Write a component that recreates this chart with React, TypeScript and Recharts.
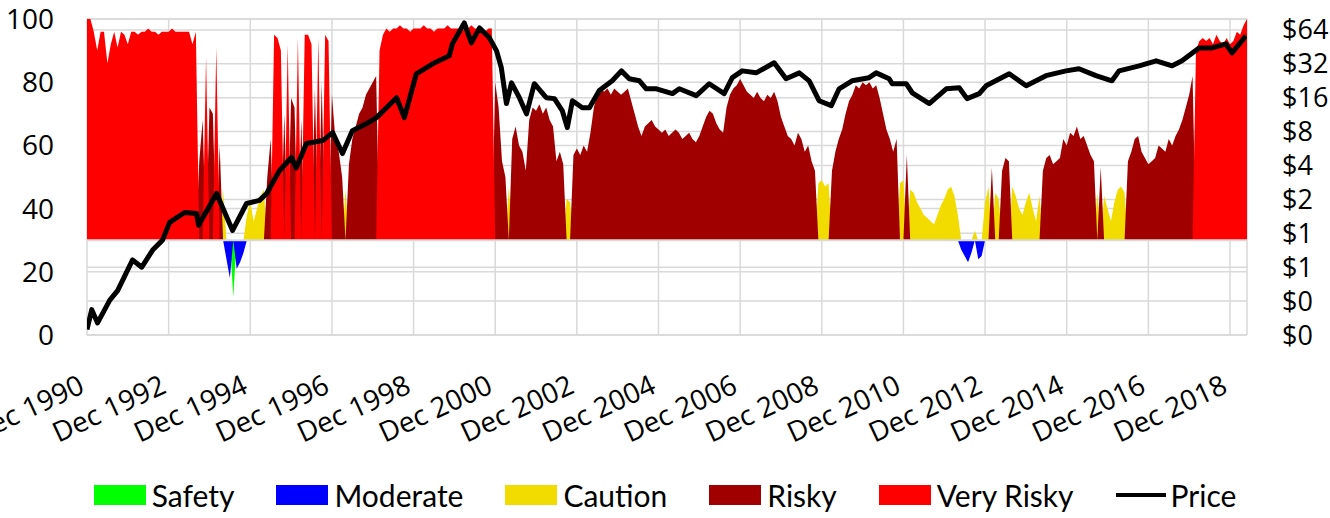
import React from 'react';
import { ComposedChart, Area, Line, XAxis, YAxis, CartesianGrid, Legend, ReferenceLine } from 'recharts';

const FONT = '"Open Sans", "Noto Sans", sans-serif';
const LEGEND_FONT = 'Lato, "Open Sans", sans-serif';

// Monthly risk index, starting Dec 1990 (index 0) through May 2019 (index 341)
const riskIndex: number[] = [
  // Dec 1990 - Aug 1993
  100, 100, 96, 90, 96, 96, 86, 92, 96, 91, 96, 95, 92, 96,
  96, 95, 96, 96, 97, 96, 96, 95, 96, 96, 96, 97, 96, 96, 96, 96, 96,
  92, 96,
  // Sep 1993 - Feb 1998
  55, 68, 88, 72, 70, 91, 60, 46, 24, 18, 12, 21, 23, 26, 38, 42, 36, 40, 44, 46,
  50, 62, 95, 94, 90, 70, 92, 75, 72, 94, 68, 95, 95, 92, 78, 94, 80, 95, 93, 76,
  62, 58, 50, 46, 54, 62, 66, 70, 72, 76, 78, 80, 82, 90,
  // Mar 1998 - Nov 2000
  95, 97, 96, 97, 97, 98, 97, 97, 96, 97, 97, 97, 98, 97, 97, 96, 97,
  97, 97, 98, 97, 97, 97, 96, 97, 97, 98, 97, 97, 97, 96, 97, 97,
  // Dec 2000 - May 2003
  80, 72, 55, 50, 47, 62, 66, 60, 58, 52, 68, 72, 71, 73, 70, 72, 68, 66, 55, 58,
  54, 43, 42, 57, 59, 57, 60, 58, 64, 72,
  // Jun 2003 - Nov 2005
  76, 78, 77, 78, 76, 78, 77, 76, 77, 78, 74, 70, 66, 63, 66, 67, 68, 66, 65, 64,
  65, 63, 64, 65, 64, 62, 63, 64, 62, 61,
  // Dec 2005 - May 2008
  63, 66, 69, 71, 70, 67, 65, 64, 72, 76, 78, 79, 81, 79, 77, 76, 75, 77, 75, 74,
  76, 75, 77, 74, 69, 66, 63, 62, 60, 64,
  // Jun 2008 - Nov 2010
  62, 58, 60, 55, 52, 48, 49, 47, 48, 52, 58, 62, 65, 70, 74, 76, 79, 78, 80, 79,
  80, 78, 79, 75, 70, 65, 62, 58, 62, 48,
  // Dec 2010 - May 2013
  49, 57, 46, 45, 42, 40, 38, 37, 36, 35, 38, 41, 43, 46, 47, 44, 38, 27, 25, 23,
  26, 33, 24, 25, 42, 47, 53, 45, 43, 52,
  // Jun 2013 - Nov 2015
  56, 55, 47, 44, 40, 38, 42, 45, 40, 36, 44, 52, 56, 57, 54, 55, 56, 62, 60, 64,
  63, 66, 62, 63, 60, 57, 55, 45, 53, 44,
  // Dec 2015 - May 2018
  40, 36, 42, 46, 47, 45, 55, 58, 62, 63, 58, 56, 54, 55, 56, 60, 59, 58, 62, 60,
  63, 65, 68, 72, 76, 82, 90, 93, 94, 93,
  // Jun 2018 - May 2019
  94, 92, 95, 93, 92, 94, 92, 93, 96, 95, 98, 100,
];

// Regime of each month: S=Safety, M=Moderate, C=Caution, R=Risky, V=Very Risky
const riskClass: string =
  'V'.repeat(33) +
  'RRVRRVRCMMSMMMCCCCCCRRVVVRVRRVRVVVRVRVVRRRRCRRRRRRRRRV' +
  'V'.repeat(33) +
  'RRRRC' + 'R'.repeat(16) + 'CC' + 'R'.repeat(7) +
  'R'.repeat(30) +
  'R'.repeat(30) +
  'RRRRR' + 'CCCC' + 'R'.repeat(20) + 'C' +
  'CR' + 'C'.repeat(15) + 'MMMM' + 'C' + 'MM' + 'CC' + 'R' + 'CC' + 'R' +
  'RR' + 'C'.repeat(9) + 'R'.repeat(16) + 'C' + 'R' + 'C' +
  'C'.repeat(6) + 'R'.repeat(20) + 'VVVV' +
  'V'.repeat(12);

// Price (log scale), read at irregular month offsets from Dec 1990
const priceMonth: number[] = [
  0, 1.4, 3.1, 6.7, 9, 13.4, 16.1, 19.3, 22.2, 24.3, 28.7, 32.2, 32.8, 38.1, 41.1, 42.8,
  46.9, 50.7, 52.8, 56.6, 60.1, 61.5, 64.5, 69.3, 72.2, 75.1, 78, 82.2, 85.1, 91, 93.3,
  96.8, 101.6, 106.5, 107.4, 110.9, 113, 115.4, 118.3, 120.4, 121.8, 123.3, 124.8, 127.1,
  129.2, 131.5, 135, 137.4, 139.7, 141.2, 142.7, 145.6, 147.7, 150.6, 154.4, 157.1, 159.4,
  162.4, 164.4, 167.4, 172.1, 174.1, 179.1, 182.9, 187.3, 189.7, 192.6, 196.7, 202, 205.5,
  209.4, 212.3, 215.2, 218.8, 221.1, 224.9, 229.9, 232, 235.8, 236.7, 240.8, 242.6, 247.6,
  252.6, 256.4, 258.7, 262.3, 264.3, 271.1, 276.1, 281.9, 287.8, 291.6, 296.6, 301.3,
  303.4, 309.3, 314.3, 319, 321.9, 326.9, 330.7, 334.8, 336.6, 340.7,
];
const priceValue: number[] = [
  0.14, 0.21, 0.16, 0.255, 0.31, 0.58, 0.5, 0.71, 0.87, 1.25, 1.53, 1.5, 1.18, 2.26, 1.39, 1.06,
  1.84, 1.96, 2.26, 3.61, 4.71, 3.8, 6.27, 6.66, 7.84, 5.11, 8.16, 9.42, 10.65, 16, 10.65,
  26.1, 32, 37.7, 48.1, 73.8, 49.1, 66.7, 54.4, 41.7, 29.5, 14.2, 21.7, 16,
  11.5, 21.3, 16, 15.7, 12.3, 8.7, 15.05, 13.05, 13.05, 18.5, 22.6, 27.7, 23.6,
  22.6, 19.2, 19.2, 17.4, 19.2, 16.7, 21.3, 17.4, 24.1, 27.7, 26.6, 32.7, 23.6,
  26.6, 22.6, 15.05, 13.6, 19.2, 22.6, 24.1, 26.6, 23.6, 21.3, 21.3, 17.7, 14.2,
  19.2, 19.6, 15.7, 17.4, 20.4, 26.1, 20.4, 25.1, 27.7, 28.9, 25.1, 22.6,
  27.7, 30.7, 34, 30.7, 34, 44.3, 44.3, 48.1, 40, 56.7,
];

const xTickMonths: number[] = [0, 24, 48, 72, 96, 120, 144, 168, 192, 216, 240, 264, 288, 312, 336];
const xTickLabels: string[] = [
  'Dec 1990', 'Dec 1992', 'Dec 1994', 'Dec 1996', 'Dec 1998', 'Dec 2000', 'Dec 2002', 'Dec 2004',
  'Dec 2006', 'Dec 2008', 'Dec 2010', 'Dec 2012', 'Dec 2014', 'Dec 2016', 'Dec 2018',
];
const leftTicks: number[] = [0, 20, 40, 60, 80, 100];
const priceTicks: number[] = [0.125, 0.25, 0.5, 1, 2, 4, 8, 16, 32, 64];

const seriesKeys = ['safety', 'moderate', 'caution', 'risky', 'veryRisky'];
const seriesNames = ['Safety', 'Moderate', 'Caution', 'Risky', 'Very Risky'];
const seriesCodes = ['S', 'M', 'C', 'R', 'V'];
const seriesColors = ['#00FF00', '#0000FF', '#F2DC00', '#A00000', '#FF0000'];
const legendOrder = [...seriesNames, 'Price'];
const BASE = 30;

const riskData = riskIndex.map((v, i) => {
  const row: Record<string, number> = { m: i };
  seriesKeys.forEach((k, j) => {
    row[k] = riskClass[i] === seriesCodes[j] ? v : BASE;
  });
  return row;
});

const priceData = priceMonth.map((m, i) => ({ m, price: priceValue[i] }));

const XTick = (props: any) => {
  const { x, y, payload } = props;
  const idx = xTickMonths.indexOf(payload.value);
  const label = idx >= 0 ? xTickLabels[idx] : '';
  const ax = x - 1;
  const ay = y;
  return (
    <text
      x={ax}
      y={ay}
      transform={`rotate(-25, ${ax}, ${ay})`}
      textAnchor="end"
      fontSize={28}
      fontFamily={FONT}
      fill="#000"
    >
      {label}
    </text>
  );
};

const renderLegend = (props: any) => {
  const payload: any[] = [...(props.payload || [])].sort(
    (a, b) => legendOrder.indexOf(a.value) - legendOrder.indexOf(b.value)
  );
  return (
    <div
      style={{
        display: 'flex',
        alignItems: 'center',
        justifyContent: 'center',
        height: 40,
        fontFamily: LEGEND_FONT,
        fontSize: 30,
        color: '#000',
        whiteSpace: 'nowrap',
      }}
    >
      {payload.map((entry, i) => {
        const nameIdx = seriesNames.indexOf(entry.value);
        const color = nameIdx >= 0 ? seriesColors[nameIdx] : entry.color;
        return (
          <div key={i} style={{ display: 'flex', alignItems: 'center', marginRight: i === payload.length - 1 ? 0 : 42 }}>
            {entry.type === 'line' ? (
              <div style={{ width: 50, height: 4, background: '#000', marginRight: 5 }} />
            ) : (
              <div style={{ width: 52, height: 20, background: color, marginRight: 6 }} />
            )}
            <span style={{ lineHeight: '40px' }}>{entry.value}</span>
          </div>
        );
      })}
    </div>
  );
};

export default function App() {
  return (
    <div style={{ position: 'absolute', left: 0, top: 0, width: 1330, height: 518, background: '#fff' }}>
      <ComposedChart width={1330} height={518} data={riskData} margin={{ top: 19, right: 0, bottom: 3, left: 0 }}>
        <CartesianGrid yAxisId="left" stroke="#d9d9d9" strokeWidth={1.5} vertical={true} horizontal={true} />
        <CartesianGrid yAxisId="right" stroke="#d9d9d9" strokeWidth={1.5} vertical={false} horizontal={true} />
        <XAxis
          dataKey="m"
          type="number"
          domain={[0, 341]}
          ticks={xTickMonths}
          interval={0}
          allowDataOverflow
          tick={<XTick />}
          tickLine={false}
          axisLine={false}
          tickSize={0}
          tickMargin={57}
          height={140}
        />
        <YAxis
          yAxisId="left"
          domain={[0, 100]}
          ticks={leftTicks}
          interval={0}
          width={87}
          tickLine={false}
          axisLine={false}
          tickSize={0}
          tickMargin={33}
          tick={{ fontSize: 28, fontFamily: FONT, fill: '#000' }}
        />
        <YAxis
          yAxisId="right"
          orientation="right"
          scale="log"
          domain={[0.125, 80]}
          allowDataOverflow
          ticks={priceTicks}
          interval={0}
          width={83}
          tickLine={false}
          axisLine={false}
          tickSize={0}
          tickMargin={35}
          tickFormatter={(v: number) => '$' + Math.round(v)}
          tick={{ fontSize: 27, fontFamily: FONT, fill: '#000' }}
        />
        {seriesKeys.map((k, j) => (
          <Area
            key={k}
            yAxisId="left"
            dataKey={k}
            name={seriesNames[j]}
            type="linear"
            baseValue={BASE}
            stroke="none"
            fill={seriesColors[j]}
            fillOpacity={1}
            legendType="rect"
            dot={false}
            activeDot={false}
            isAnimationActive={false}
          />
        ))}
        <ReferenceLine yAxisId="left" y={BASE} stroke="#d9d9d9" strokeWidth={2} />
        <Line
          yAxisId="right"
          data={priceData}
          dataKey="price"
          name="Price"
          type="linear"
          stroke="#000"
          strokeWidth={5}
          strokeLinejoin="round"
          dot={false}
          activeDot={false}
          legendType="line"
          isAnimationActive={false}
        />
        <Legend verticalAlign="bottom" content={renderLegend} />
      </ComposedChart>
    </div>
  );
}
